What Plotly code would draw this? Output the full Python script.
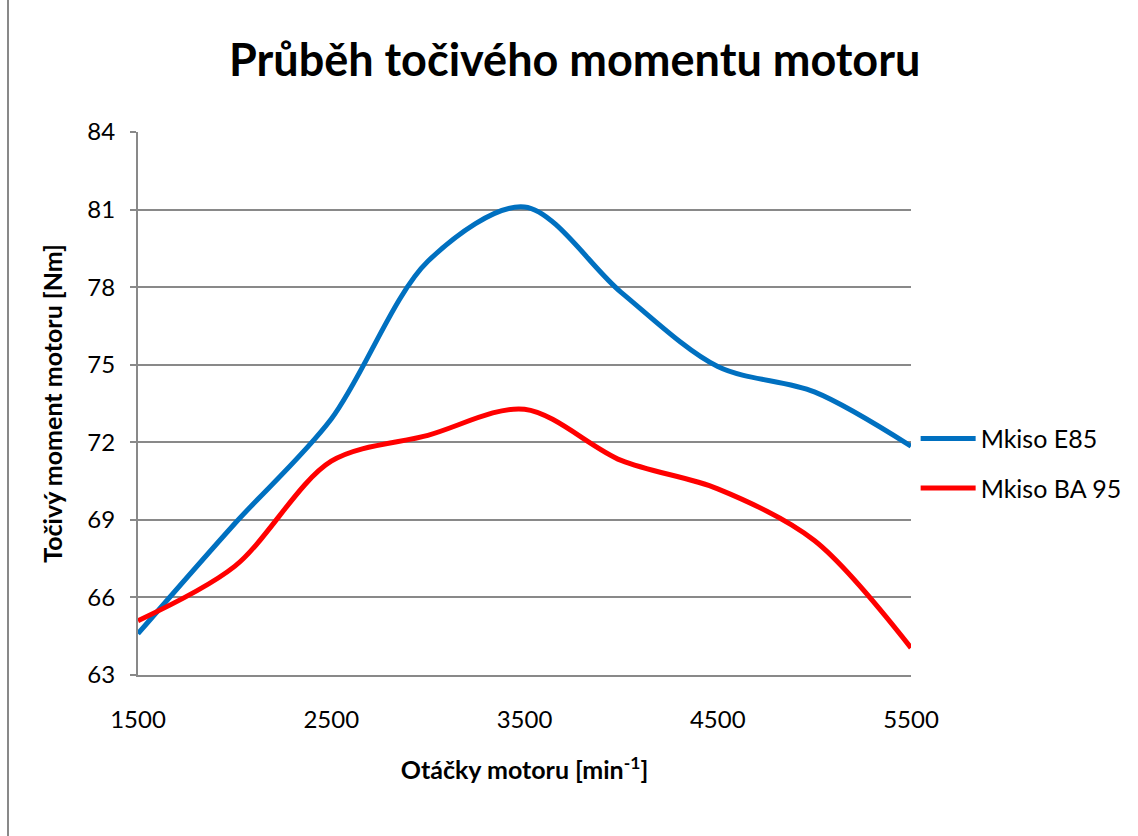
import plotly.graph_objects as go

# Engine speed [min^-1]
rpm = [1500, 2000, 2500, 3000, 3500, 4000, 4500, 5000, 5500]

# Torque [Nm] for both fuels
torque_e85 = [64.6, 68.85, 72.9, 79.0, 81.1, 77.8, 74.93, 73.95, 71.85]
torque_ba95 = [65.1, 67.2, 71.27, 72.27, 73.28, 71.3, 70.2, 68.2, 64.05]

x_ticks = [1500, 2500, 3500, 4500, 5500]
y_ticks = [63, 66, 69, 72, 75, 78, 81, 84]

series_names = ["Mkiso E85", "Mkiso BA 95"]
series_colors = ["#0070C0", "#FF0000"]

FONT = "Lato"
GRID = "#898989"

fig = go.Figure()
for i, (name, vals, col) in enumerate(zip(series_names, [torque_e85, torque_ba95], series_colors)):
    fig.add_trace(go.Scatter(
        x=rpm, y=vals, name=name, mode="lines",
        line=dict(color=col, width=5, shape="spline", smoothing=0.9),
        legendgroup=f"g{i}",
    ))

fig.update_layout(
    width=1138, height=836,
    paper_bgcolor="white", plot_bgcolor="white",
    margin=dict(l=138, r=227, t=132, b=161, autoexpand=False),
    title=dict(
        text="<b>Průběh točivého momentu motoru</b>",
        font=dict(family=FONT, size=45, color="black"),
        x=0.505, xanchor="center", xref="container",
        y=1 - 60 / 836, yanchor="middle",
    ),
    xaxis=dict(
        range=[1500, 5500], tickvals=x_ticks,
        showgrid=False, zeroline=False,
        showline=True, linecolor=GRID, linewidth=2,
        ticks="", ticklabelstandoff=22,
        tickfont=dict(family=FONT, size=24, color="black"),
        title=dict(text="<b>Otáčky motoru [min<sup>-1</sup>]</b>",
                   font=dict(family=FONT, size=25, color="black"), standoff=30),
    ),
    yaxis=dict(
        range=[63, 84], tickvals=y_ticks,
        showgrid=True, gridcolor=GRID, gridwidth=2, zeroline=False,
        showline=True, linecolor=GRID, linewidth=2,
        ticks="outside", ticklen=6, tickcolor=GRID, tickwidth=2,
        ticklabelstandoff=10,
        tickfont=dict(family=FONT, size=24, color="black"),
        title=dict(text="<b>Točivý moment motoru [Nm]</b>",
                   font=dict(family=FONT, size=25, color="black"), standoff=18),
    ),
    legend=dict(
        x=1.006, xanchor="left", y=0.39, yanchor="middle",
        font=dict(family=FONT, size=25, color="black"),
        traceorder="grouped", tracegroupgap=14, itemwidth=55,
        bgcolor="rgba(0,0,0,0)",
    ),
    shapes=[dict(type="line", xref="paper", yref="paper",
                 x0=-130 / 773, x1=-130 / 773, y0=-161 / 543, y1=1 + 132 / 543,
                 line=dict(color=GRID, width=2))],
)

fig.write_html("out.html")
